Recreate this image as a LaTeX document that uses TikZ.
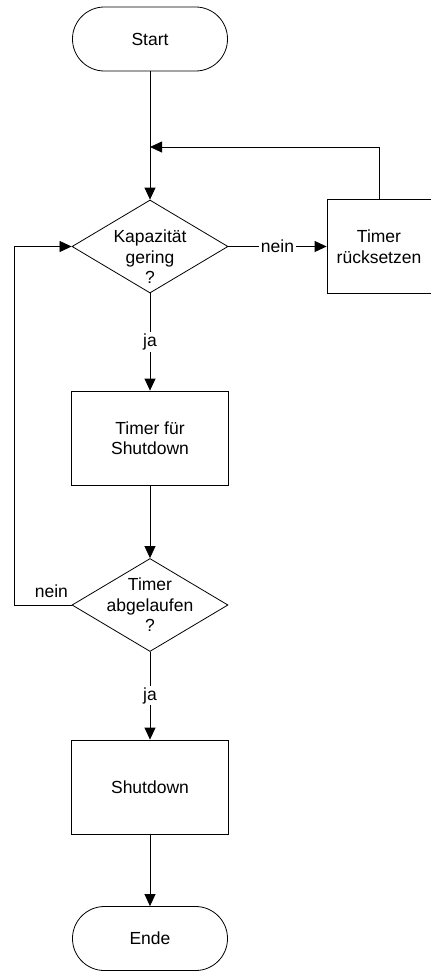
\documentclass[tikz,border=0pt]{standalone}
\usepackage{fontspec}
\setmainfont{Liberation Sans}
\usetikzlibrary{shapes.geometric,arrows.meta}
\tikzset{
	term/.style={rectangle,draw=black,rounded corners=31.9bp,minimum width=155bp,minimum height=64bp,inner sep=0pt},
	proc/.style={rectangle,draw=black,minimum width=157bp,minimum height=94bp,align=center,inner sep=0pt},
	dec/.style={diamond,draw=black,minimum width=156bp,minimum height=93bp,inner sep=0pt},
	lbl/.style={fill=white,inner sep=1.5bp},
	flow/.style={draw=black,-{Triangle[length=12bp,width=11bp]}}
}
\begin{document}
\begin{tikzpicture}[x=1bp,y=-1bp,line width=0.8bp,font=\fontsize{17.5bp}{20.5bp}\selectfont]
		\useasboundingbox (0,0) rectangle (430,971);
		
		\node[term] (start) at (150,39) {Start};
		\node[dec] (cap) at (150,246.5) {};
		\node[align=center] (captxt) at (150,257) {Kapazität\\gering\\?};
		\node[proc,minimum width=104bp] (reset) at (379,246.5) {Timer\\rücksetzen};
		\node[proc] (timer) at (150,438) {Timer für\\Shutdown};
		\node[dec] (exp) at (150,605) {};
		\node[align=center] (exptxt) at (150,605) {Timer\\abgelaufen\\?};
		\node[proc] (shut) at (150,787) {Shutdown};
		\node[term] (end) at (150,938.5) {Ende};
		
		\coordinate (back) at (150,147);
		\coordinate (loop) at (14,605);
		
		\draw[flow] (start) -- (cap);
		\draw[flow] (reset.north) |- (back);
		\draw[flow] (cap) -- node[lbl]{nein} (reset);
		\draw[flow] (cap) -- node[lbl]{ja} (timer);
		\draw[flow] (timer) -- (exp);
		\draw[flow] (exp.west) -- node[above=4bp,pos=0.35]{nein} (loop) |- (cap.west);
		\draw[flow] (exp) -- node[lbl]{ja} (shut);
		\draw[flow] (shut) -- (end);
\end{tikzpicture}
\end{document}
